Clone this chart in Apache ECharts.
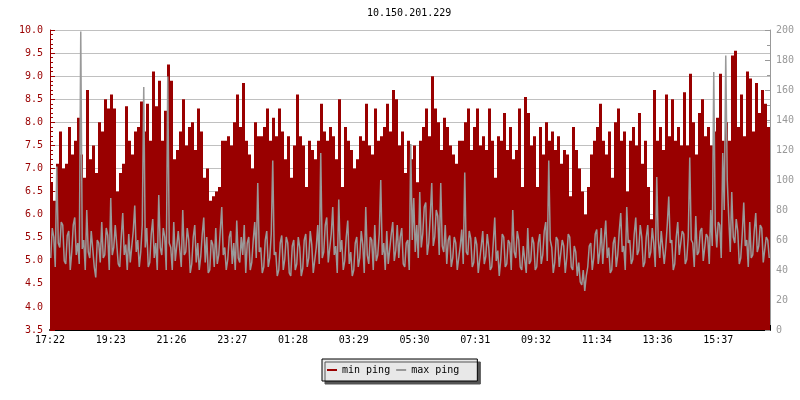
<!DOCTYPE html>
<html><head><meta charset="utf-8">
<script src="https://cdn.jsdelivr.net/npm/echarts@6/dist/echarts.min.js"></script>
<style>html,body{margin:0;padding:0;background:#fff}#c{width:800px;height:400px}</style>
</head><body><div id="c"></div>
<script>
const chartTitle = '10.150.201.229';
const tickLabels = ['17:22','19:23','21:26','23:27','01:28','03:29','05:30','07:31','09:32','11:34','13:36','15:37'];
const sampleMinutes = 6;
const spanMinutes = 1440;
const tickMinutes = 121.5;

const minPing = [
 6.7, 6.3, 7.1, 7.8, 7.0, 7.1, 7.9, 7.3, 7.6, 8.1,
 7.3, 6.8, 8.7, 7.2, 7.5, 6.9, 8.0, 7.8, 8.5, 8.3,
 8.6, 8.3, 6.5, 6.9, 7.1, 8.35, 7.6, 7.3, 7.8, 7.9,
 8.45, 7.8, 8.4, 7.6, 9.1, 8.35, 8.9, 7.6, 8.25, 9.25,
 8.9, 7.2, 7.4, 7.8, 8.5, 7.5, 7.9, 8.0, 7.4, 8.3,
 7.8, 6.8, 7.0, 6.3, 6.4, 6.5, 6.6, 7.6, 7.6, 7.7,
 7.5, 8.0, 8.6, 7.9, 8.85, 7.6, 7.3, 7.0, 8.0, 7.7,
 7.7, 7.9, 8.3, 7.6, 8.1, 7.7, 8.3, 7.8, 7.2, 7.7,
 6.8, 7.5, 8.6, 7.7, 7.5, 6.6, 7.6, 7.4, 7.2, 7.6,
 8.4, 7.8, 7.6, 7.9, 7.7, 7.2, 8.5, 6.6, 7.9, 7.6,
 7.4, 7.0, 7.2, 7.7, 7.6, 8.4, 7.5, 7.3, 8.3, 7.6,
 7.7, 7.9, 8.4, 7.8, 8.7, 8.5, 7.5, 7.8, 6.9, 7.6,
 7.2, 7.5, 6.7, 7.6, 7.9, 8.3, 7.7, 9.0, 8.3, 8.0,
 7.4, 8.1, 7.9, 7.5, 7.3, 7.1, 7.6, 7.6, 8.0, 8.3,
 7.4, 7.9, 8.3, 7.5, 7.7, 7.4, 8.3, 7.6, 6.8, 7.7,
 7.6, 8.2, 7.4, 7.9, 7.2, 7.4, 8.3, 6.6, 8.55, 8.2,
 7.5, 7.7, 6.6, 7.9, 7.3, 8.0, 7.6, 7.8, 7.4, 7.7,
 7.1, 7.4, 7.3, 6.4, 7.9, 7.4, 7.0, 6.5, 6.0, 6.6,
 7.3, 7.6, 7.9, 8.4, 7.6, 7.3, 7.8, 6.8, 8.0, 8.3,
 7.6, 7.8, 6.5, 7.6, 7.9, 7.5, 8.2, 7.1, 7.6, 6.6,
 5.9, 8.7, 7.6, 7.9, 7.4, 8.6, 7.7, 8.5, 7.6, 7.9,
 7.5, 8.65, 7.5, 9.05, 8.0, 7.3, 8.2, 8.5, 7.7, 7.9,
 7.5, 7.8, 8.1, 9.05, 7.6, 8.0, 7.6, 9.45, 9.55, 7.9,
 8.6, 7.7, 9.1, 8.95, 7.8, 8.85, 8.2, 8.7, 8.4, 7.9
];

// max ping: two readings per 3px column (first half, second half of the column)
const maxPingA = [
 48, 62, 109, 55, 70, 44, 66, 52, 75, 58,
 199, 60, 80, 48, 67, 35, 58, 72, 50, 63,
 88, 55, 70, 42, 78, 57, 64, 46, 83, 60,
 52, 162, 68, 45, 74, 58, 90, 50, 62, 169,
 55, 72, 47, 65, 80, 52, 60, 44, 70, 58,
 49, 75, 62, 40, 57, 68, 50, 82, 55, 47,
 66, 58, 73, 45, 50, 38, 62, 45, 72, 98,
 55, 42, 66, 48, 113, 52, 40, 63, 47, 58,
 36, 60, 44, 55, 41, 64, 48, 57, 38, 70,
 118, 52, 75, 44, 82, 56, 87, 60, 46, 73,
 52, 40, 62, 48, 57, 82, 44, 60, 70, 50,
 100, 58, 66, 45, 72, 53, 48, 68, 42, 60,
 124, 88, 70, 92, 64, 85, 58, 98, 62, 76,
 98, 52, 44, 63, 48, 58, 40, 67, 105, 50,
 61, 45, 57, 38, 66, 49, 55, 42, 75, 53,
 47, 62, 44, 58, 80, 48, 60, 40, 55, 68,
 46, 58, 42, 64, 50, 72, 113, 55, 45, 60,
 43, 56, 48, 62, 40, 52, 45, 30, 26, 42,
 58, 48, 67, 52, 44, 73, 55, 40, 62, 50,
 78, 56, 82, 60, 47, 75, 53, 62, 45, 70,
 52, 58, 102, 48, 66, 55, 89, 60, 44, 72,
 50, 64, 47, 115, 58, 76, 52, 68, 45, 62,
 80, 172, 55, 70, 118, 183, 75, 92, 58, 66,
 48, 85, 60, 72, 50, 78, 56, 68, 44, 60
];
const maxPingB = [
 68, 42, 58, 72, 46, 63, 40, 70, 50, 44,
 54, 40, 52, 66, 42, 60, 45, 48, 68, 40,
 50, 70, 44, 62, 50, 40, 45, 66, 52, 42,
 70, 55, 42, 64, 48, 40, 55, 68, 40, 58,
 40, 46, 66, 42, 50, 68, 38, 62, 45, 40,
 64, 45, 38, 60, 42, 44, 66, 50, 40, 62,
 44, 40, 48, 62, 70, 58, 40, 60, 48, 52,
 38, 60, 42, 64, 50, 36, 58, 40, 62, 38,
 56, 40, 62, 36, 60, 42, 66, 38, 55, 44,
 48, 70, 45, 64, 50, 38, 52, 40, 62, 44,
 36, 58, 42, 66, 38, 50, 62, 40, 46, 64,
 50, 40, 44, 64, 46, 70, 62, 44, 58, 40,
 60, 52, 48, 55, 82, 50, 76, 56, 80, 50,
 56, 70, 60, 42, 62, 40, 56, 44, 52, 66,
 42, 62, 38, 56, 44, 64, 40, 58, 46, 36,
 64, 42, 60, 40, 52, 66, 42, 56, 38, 44,
 62, 40, 58, 44, 66, 46, 60, 38, 62, 42,
 60, 38, 64, 42, 56, 36, 32, 40, 36, 56,
 40, 64, 44, 68, 60, 48, 38, 58, 42, 66,
 52, 40, 58, 44, 64, 50, 70, 42, 62, 48,
 68, 42, 60, 66, 44, 70, 58, 40, 62, 50,
 66, 44, 62, 60, 42, 50, 66, 46, 64, 44,
 56, 70, 72, 48, 80, 100, 52, 62, 74, 44,
 64, 56, 42, 48, 66, 52, 70, 45, 62, 48
];

function stepSeries(values) {
  const d = values.map((v, i) => [i * sampleMinutes, v]);
  d.push([spanMinutes, values[values.length - 1]]);
  return d;
}
function pairSeries(a, b) {
  const d = [];
  a.forEach((v, i) => {
    d.push([i * sampleMinutes + sampleMinutes * 0.25, v]);
    d.push([i * sampleMinutes + sampleMinutes * 0.75, b[i]]);
  });
  return d;
}

const FONT = 'DejaVu Sans Mono';
const RED = '#990000';
const GREY = '#999999';

const chart = echarts.init(document.getElementById('c'), null, {renderer: 'canvas'});
chart.setOption({
  animation: false,
  backgroundColor: '#ffffff',
  title: {
    text: chartTitle, left: 367, top: 8, padding: 0,
    textStyle: {fontFamily: FONT, fontSize: 10, fontWeight: 'normal', color: '#000'}
  },
  legend: {
    left: 322, top: 359,
    padding: [6, 18, 6, 5],
    itemWidth: 10, itemHeight: 2, itemGap: 6,
    icon: 'rect',
    backgroundColor: '#e8e8e8', borderColor: '#000', borderWidth: 1,
    shadowColor: '#555', shadowBlur: 0, shadowOffsetX: 3, shadowOffsetY: 3,
    textStyle: {fontFamily: FONT, fontSize: 10, color: '#000'},
    data: ['min ping', 'max ping']
  },
  grid: {left: 50, right: 30, top: 30, bottom: 70, containLabel: false},
  xAxis: {
    type: 'value', min: 0, max: spanMinutes, interval: tickMinutes,
    axisLine: {show: true, onZero: false, lineStyle: {color: '#000', width: 2}},
    axisTick: {show: true, inside: true, length: 5, lineStyle: {color: '#000'}},
    axisLabel: {
      fontFamily: FONT, fontSize: 10, color: '#000', margin: 5,
      formatter: v => tickLabels[Math.round(v / tickMinutes)] || ''
    },
    splitLine: {show: false}
  },
  yAxis: [{
    type: 'value', min: 3.5, max: 10, interval: 0.5, position: 'left',
    axisLine: {show: true, lineStyle: {color: RED, width: 1}},
    axisTick: {show: true, inside: true, length: 5, lineStyle: {color: RED}},
    minorTick: {show: true, splitNumber: 5, length: 3, lineStyle: {color: RED}},
    axisLabel: {fontFamily: FONT, fontSize: 10, color: RED, margin: 7, formatter: v => v.toFixed(1)},
    splitLine: {show: true, lineStyle: {color: '#c0c0c0', width: 1}}
  }, {
    type: 'value', min: 0, max: 200, interval: 20, position: 'right',
    axisLine: {show: true, lineStyle: {color: GREY, width: 1}},
    axisTick: {show: true, inside: true, length: 5, lineStyle: {color: GREY}},
    minorTick: {show: true, splitNumber: 2, length: 3, lineStyle: {color: GREY}},
    axisLabel: {fontFamily: FONT, fontSize: 10, color: GREY, margin: 6},
    splitLine: {show: false}
  }],
  series: [{
    name: 'min ping', type: 'line', yAxisIndex: 0,
    data: stepSeries(minPing), step: 'end', symbol: 'none',
    lineStyle: {width: 0, color: RED}, itemStyle: {color: RED},
    areaStyle: {color: RED, opacity: 1, origin: 'start'},
    silent: true
  }, {
    name: 'max ping', type: 'line', yAxisIndex: 1,
    data: pairSeries(maxPingA, maxPingB), symbol: 'none',
    lineStyle: {width: 1.5, color: GREY}, itemStyle: {color: GREY},
    silent: true
  }]
});
</script></body></html>
